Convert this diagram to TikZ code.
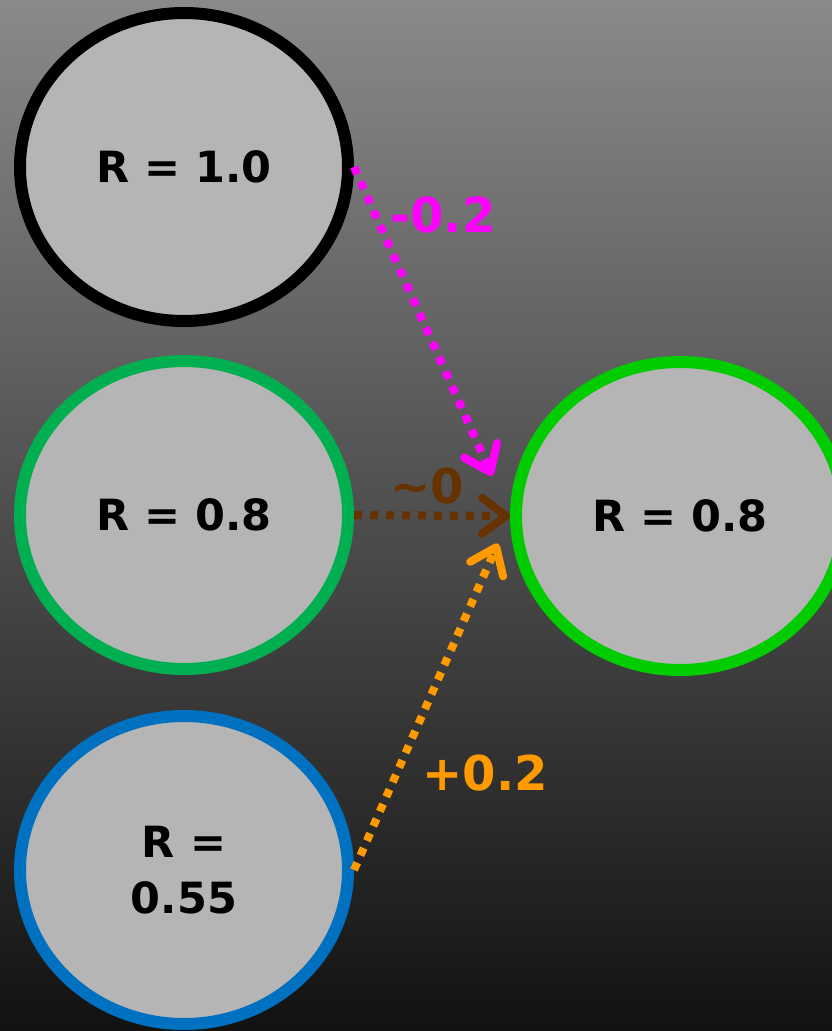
\documentclass[tikz,border=0pt]{standalone}
\usepackage{fontspec}
\setmainfont{DejaVu Sans}
\usetikzlibrary{arrows.meta,shapes.geometric}
\definecolor{ringblack}{HTML}{000000}
\definecolor{ringgreen}{HTML}{00B050}
\definecolor{ringblue}{HTML}{0070C0}
\definecolor{ringlime}{HTML}{00CC00}
\definecolor{nodefill}{HTML}{B5B5B5}
\definecolor{deltaneg}{HTML}{FF00FF}
\definecolor{deltazero}{HTML}{663300}
\definecolor{deltapos}{HTML}{FF9900}
\tikzset{
  rnode/.style={ellipse,draw=#1,fill=nodefill,line width=12pt,minimum width=328pt,
    minimum height=308pt,inner sep=0pt,align=center,text=black,
    font=\fontsize{43}{56}\selectfont\bfseries},
  delta/.style={draw=#1,line width=8pt,dash pattern=on 8pt off 8pt,
    -{Straight Barb[length=24pt,width=36pt,round]}},
  dlabel/.style={text=#1,font=\fontsize{48}{56}\selectfont\bfseries}
}
\begin{document}
\begin{tikzpicture}[x=1pt,y=-1pt]
\useasboundingbox (0,0) rectangle (832,1031);
\shade[top color=black!46,bottom color=black!93] (0,0) rectangle (832,1031);
\node[rnode=ringblack] (r1) at (184,167) {R = 1.0};
\node[rnode=ringgreen] (r2) at (184,515) {R = 0.8};
\node[rnode=ringblue] (r3) at (184,870) {R =\\0.55};
\node[rnode=ringlime] (tgt) at (680,516) {R = 0.8};
\draw[delta=deltaneg,shorten >=44pt] (r1.east) -- (tgt.west);
\draw[delta=deltazero] (r2.east) -- (tgt.west);
\draw[delta=deltapos,shorten >=30pt] (r3.east) -- (tgt.west);
\node[dlabel=deltaneg] (lneg) at (443,215) {-0.2};
\node[dlabel=deltazero] (lzero) at (427,486) {\textasciitilde0};
\node[dlabel=deltapos] (lpos) at (485,773) {+0.2};
\end{tikzpicture}
\end{document}
